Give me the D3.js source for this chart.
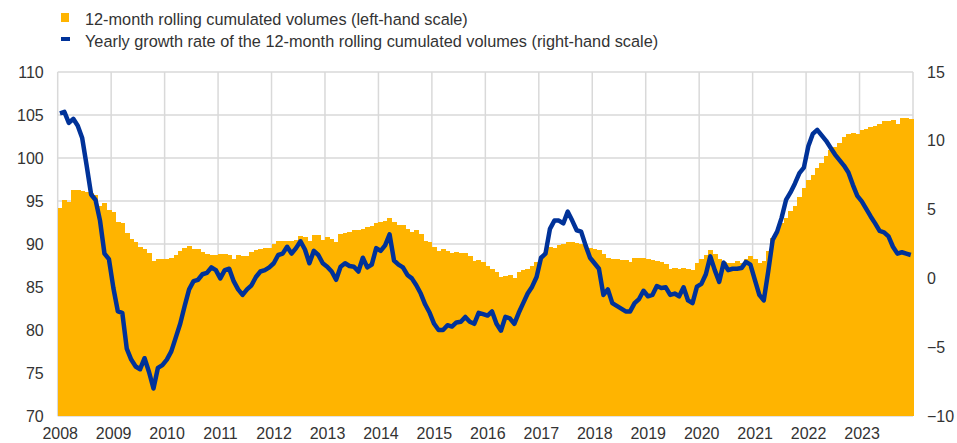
<!DOCTYPE html>
<html>
<head>
<meta charset="utf-8">
<script src="https://cdn.jsdelivr.net/npm/d3@7"></script>
<style>
   body { margin: 0; background: #fff; }
   svg { display: block; font-family: "Liberation Sans", Arial, sans-serif; }
   .tick text { fill: #333; font-size: 16px; }
   .legend text { fill: #333; font-size: 16.3px; }
</style>
</head>
<body>
<div id="chart"></div>
<script>
"use strict";

// year labels (one per 12 monthly observations, Jan 2008 - Dec 2023)
const years = [2008, 2009, 2010, 2011, 2012, 2013, 2014, 2015,
   2016, 2017, 2018, 2019, 2020, 2021, 2022, 2023];

const leftTicks = [70, 75, 80, 85, 90, 95, 100, 105, 110];
const rightTicks = [-10, -5, 0, 5, 10, 15];

// 12-month rolling cumulated volumes (left-hand scale)
const volumes = [
   94.2, 95.1, 94.9, 96.3, 96.3, 96.2, 96.1, 95.9, 95.7, 94.4, 94.8, 94.0,
   93.7, 92.6, 92.5, 91.3, 90.6, 90.2, 89.7, 89.4, 88.9, 88.0, 88.2, 88.3,
   88.2, 88.4, 88.7, 89.2, 89.5, 89.8, 89.4, 89.4, 89.1, 88.8, 88.7, 88.7,
   88.8, 88.8, 88.7, 88.3, 88.7, 88.6, 88.6, 89.1, 89.3, 89.4, 89.5, 89.5,
   90.0, 90.3, 90.4, 90.4, 90.4, 90.5, 90.9, 90.8, 90.4, 91.1, 91.1, 90.5,
   90.8, 90.6, 90.2, 91.2, 91.3, 91.4, 91.6, 91.6, 91.8, 92.0, 92.1, 92.4,
   92.6, 92.7, 93.0, 92.6, 92.2, 92.2, 91.8, 91.4, 91.6, 91.2, 90.4, 90.2,
   89.6, 89.2, 89.4, 89.2, 89.0, 89.1, 89.0, 89.0, 88.6, 88.0, 88.1, 87.9,
   87.5, 87.1, 86.8, 86.2, 86.3, 86.4, 86.1, 86.8, 87.0, 87.1, 87.5, 87.9,
   88.4, 89.1, 89.6, 89.5, 89.9, 90.0, 90.2, 90.2, 90.1, 90.0, 89.8, 89.5,
   89.4, 89.3, 88.8, 88.4, 88.3, 88.3, 88.1, 88.1, 87.9, 88.4, 88.4, 88.4,
   88.3, 88.1, 88.0, 87.9, 87.7, 87.1, 87.2, 87.1, 87.2, 87.1, 87.0, 87.8,
   88.3, 88.7, 89.3, 88.8, 88.2, 87.9, 87.8, 87.8, 88.0, 87.8, 88.2, 88.6,
   88.3, 87.8, 88.0, 89.2, 90.7, 91.4, 92.4, 93.0, 93.8, 94.4, 95.5, 96.5,
   97.4, 98.0, 98.8, 99.4, 100.2, 100.9, 101.3, 101.7, 102.4, 102.8, 102.9, 102.8,
   103.2, 103.4, 103.6, 103.7, 104.0, 104.3, 104.3, 104.4, 104.0, 104.7, 104.7, 104.5
];

// yearly growth rate of the 12-month rolling cumulated volumes (right-hand scale)
const growth = [
   12.0, 12.1, 11.3, 11.6, 11.1, 10.2, 8.2, 6.1, 5.7, 4.2, 1.8, 1.4,
   -0.7, -2.4, -2.5, -5.1, -5.9, -6.4, -6.6, -5.8, -6.8, -8.0, -6.5, -6.3,
   -5.9, -5.3, -4.3, -3.3, -2.0, -0.8, -0.2, -0.1, 0.3, 0.4, 0.8, 0.6,
   0.0, 0.6, 0.7, -0.2, -0.8, -1.2, -0.8, -0.5, 0.1, 0.5, 0.6, 0.8,
   1.1, 1.7, 1.8, 2.3, 1.8, 2.2, 2.7, 2.1, 1.1, 2.0, 1.7, 1.1,
   0.85, 0.5, -0.1, 0.85, 1.1, 0.9, 0.85, 0.5, 1.5, 0.8, 1.0, 2.2,
   2.0, 2.4, 3.2, 1.3, 1.0, 0.8, 0.25, 0.0, -0.5, -1.1, -1.9, -2.5,
   -3.3, -3.75, -3.75, -3.4, -3.5, -3.2, -3.15, -2.8, -3.15, -3.3, -2.5, -2.6,
   -2.7, -2.4, -3.3, -3.8, -2.8, -2.9, -3.3, -2.5, -1.8, -1.1, -0.6, 0.1,
   1.5, 1.8, 3.6, 4.2, 4.2, 4.0, 4.85, 4.2, 3.5, 3.4, 2.4, 1.5,
   1.1, 0.7, -1.2, -0.8, -1.8, -2.0, -2.2, -2.4, -2.4, -1.8, -1.5, -0.9,
   -1.3, -1.2, -0.55, -0.7, -0.65, -1.2, -1.1, -1.3, -0.65, -1.6, -1.8, -0.6,
   -0.4, 0.3, 1.6, 0.6, -0.25, 1.15, 0.6, 0.7, 0.7, 0.75, 1.2, 1.0,
   -0.1, -1.2, -1.6, 0.5, 2.8, 3.4, 4.4, 5.7, 6.25, 6.9, 7.65, 8.05,
   9.6, 10.5, 10.8, 10.4, 10.0, 9.5, 9.0, 8.6, 8.2, 7.7, 6.8, 6.0,
   5.6, 5.05, 4.5, 4.0, 3.45, 3.35, 3.05, 2.3, 1.8, 1.9, 1.8, 1.7
];

const seriesNames = [
   "12-month rolling cumulated volumes (left-hand scale)",
   "Yearly growth rate of the 12-month rolling cumulated volumes (right-hand scale)"
];

(function () {
   const width = 957;
   const height = 443;
   const margin = { top: 72, right: 44, bottom: 27, left: 57.7 };
   const barColour = "#ffb400";
   const lineColour = "#003299";
   const gridColour = "#d9d9d9";

   const plotRight = width - margin.right;
   const plotBottom = height - margin.bottom;

   const months = d3.range(volumes.length);

   const x = d3.scaleBand()
      .domain(months)
      .range([margin.left, plotRight])
      .padding(0);

   const yLeft = d3.scaleLinear()
      .domain([70, 110])
      .range([plotBottom, margin.top]);

   const yRight = d3.scaleLinear()
      .domain([-10, 15])
      .range([plotBottom, margin.top]);

   const svg = d3.select("#chart").append("svg")
      .attr("width", width)
      .attr("height", height);

   // gridlines
   const grid = svg.append("g").attr("class", "grid")
      .attr("stroke", gridColour)
      .attr("stroke-width", 1.5);

   grid.selectAll("line.h")
      .data(leftTicks)
      .enter()
      .append("line")
      .attr("x1", margin.left)
      .attr("x2", plotRight)
      .attr("y1", d => yLeft(d))
      .attr("y2", d => yLeft(d));

   const yearEdges = years.map((_, i) => x(i * 12)).concat([plotRight]);
   grid.selectAll("line.v")
      .data(yearEdges)
      .enter()
      .append("line")
      .attr("x1", d => d)
      .attr("x2", d => d)
      .attr("y1", margin.top)
      .attr("y2", plotBottom);

   // bars
   svg.append("g")
      .attr("shape-rendering", "crispEdges")
      .selectAll("rect")
      .data(volumes)
      .enter()
      .append("rect")
      .attr("x", (d, i) => x(i))
      .attr("width", x.bandwidth() + 0.6)
      .attr("y", d => yLeft(d))
      .attr("height", d => plotBottom - yLeft(d))
      .attr("fill", barColour);

   // growth line
   const line = d3.line()
      .x((d, i) => x(i) + x.bandwidth() / 2)
      .y(d => yRight(d));

   svg.append("path")
      .datum(growth)
      .attr("d", line)
      .attr("fill", "none")
      .attr("stroke", lineColour)
      .attr("stroke-width", 4.5)
      .attr("stroke-linejoin", "round")
      .attr("stroke-linecap", "butt");

   // axes
   svg.append("g")
      .attr("transform", `translate(${margin.left},0)`)
      .call(d3.axisLeft(yLeft).tickValues(leftTicks).tickSize(0).tickPadding(14))
      .call(g => g.select(".domain").remove());

   svg.append("g")
      .attr("transform", `translate(${plotRight},0)`)
      .call(d3.axisRight(yRight).tickValues(rightTicks).tickSize(0).tickPadding(14))
      .call(g => g.select(".domain").remove());

   const xYears = d3.scaleLinear()
      .domain([years[0], years[years.length - 1] + 1])
      .range([margin.left + 2, plotRight + 2]);

   svg.append("g")
      .attr("transform", `translate(0,${plotBottom})`)
      .call(d3.axisBottom(xYears).tickValues(years).tickFormat(d3.format("d"))
         .tickSize(0).tickPadding(12))
      .call(g => g.select(".domain").remove());

   svg.selectAll(".tick text").attr("font-family", null).attr("font-size", null);

   // legend
   const legend = svg.append("g").attr("class", "legend");

   legend.append("rect")
      .attr("x", 61)
      .attr("y", 13)
      .attr("width", 8)
      .attr("height", 9)
      .attr("fill", barColour);

   legend.append("line")
      .attr("x1", 61)
      .attr("x2", 70)
      .attr("y1", 39)
      .attr("y2", 39)
      .attr("stroke", lineColour)
      .attr("stroke-width", 4);

   legend.selectAll("text")
      .data(seriesNames)
      .enter()
      .append("text")
      .attr("x", 85)
      .attr("y", (d, i) => 24.5 + i * 22)
      .text(d => d);
})();
</script>
</body>
</html>
